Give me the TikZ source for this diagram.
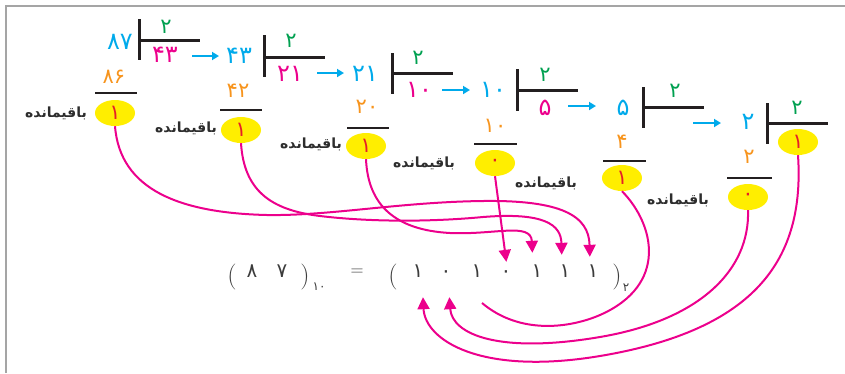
\documentclass[tikz,border=0pt]{standalone}
\usepackage{fontspec}
\usetikzlibrary{shapes.geometric,arrows.meta}
\newfontfamily\fa[Script=Arabic]{DejaVu Sans}
\TeXXeTstate=1
\definecolor{cyanC}{RGB}{0,170,235}
\definecolor{magC}{RGB}{236,0,140}
\definecolor{greenC}{RGB}{0,160,80}
\definecolor{orangeC}{RGB}{247,148,29}
\definecolor{yellowC}{RGB}{255,238,0}
\definecolor{redC}{RGB}{230,30,40}
\definecolor{barC}{RGB}{35,31,32}
\definecolor{txtC}{RGB}{45,45,45}
\definecolor{eqC}{RGB}{60,60,60}
\definecolor{frameC}{RGB}{165,165,165}
\tikzset{
  num/.style={inner sep=0pt, font=\fa\fontsize{24}{24}\selectfont},
  dvd/.style={num, text=cyanC},
  quo/.style={num, text=magC},
  dsr/.style={inner sep=0pt, font=\fa\fontsize{21}{21}\selectfont, text=greenC},
  prd/.style={inner sep=0pt, font=\fa\fontsize{21}{21}\selectfont, text=orangeC},
  rem/.style={ellipse, fill=yellowC, minimum width=40pt, minimum height=26pt, inner sep=0pt, text=redC, font=\fa\fontsize{21}{21}\selectfont},
  lbl/.style={inner sep=0pt, text=txtC, font=\fa\bfseries\fontsize{14}{14}\selectfont},
  bar/.style={draw=barC, line width=3pt},
  rule/.style={draw=barC, line width=2.5pt},
  step arrow/.style={draw=cyanC, line width=2pt, -{Triangle[length=7pt,width=8pt]}},
  link/.style={draw=magC, line width=2pt, -{Triangle[length=12pt,width=12pt]}},
  plain link/.style={draw=magC, line width=2pt},
  eqd/.style={inner sep=0pt, text=eqC, text height=10pt, text depth=0pt, font=\fa\fontsize{20}{20}\selectfont},
  par/.style={inner sep=0pt, text=eqC, font=\fontsize{26}{26}\selectfont},
  sub/.style={inner sep=0pt, text=eqC, font=\fa\fontsize{12}{12}\selectfont},
}
\begin{document}
\begin{tikzpicture}[x=1pt,y=-1pt]
\useasboundingbox (0,0) rectangle (845,373);
\draw[frameC, line width=1.2pt] (6,373) -- (6,6) -- (845,6);

% stage 1
\node[dvd] (d1) at (120,42) {۸۷};
\draw[bar] (139,19) -- (139,60) (139,40) -- (200,40);
\node[dsr] (g1) at (166,27) {۲};
\node[quo] (q1) at (165,55) {۴۳};
\node[prd] (p1) at (114,77) {۸۶};
\draw[rule] (95,93) -- (137,93);
\node[rem] (e1) at (115,113) {۱};
\node[lbl] (l1) at (56,113) {\beginR باقیمانده\endR};
\coordinate (a1s) at (192,56); \coordinate (a1e) at (219,56);
\draw[step arrow] (a1s) -- (a1e);

% stage 2
\node[dvd] (d2) at (239,56) {۴۳};
\draw[bar] (264,35) -- (264,77) (264,57) -- (325,57);
\node[dsr] (g2) at (291,41) {۲};
\node[quo] (q2) at (290,74) {۲۱};
\node[prd] (p2) at (238,91) {۴۲};
\draw[rule] (220,110) -- (262,110);
\node[rem] (e2) at (241,130) {۱};
\node[lbl] (l2) at (186,128) {\beginR باقیمانده\endR};
\coordinate (a2s) at (317,73); \coordinate (a2e) at (344,73);
\draw[step arrow] (a2s) -- (a2e);

% stage 3
\node[dvd] (d3) at (365,74) {۲۱};
\draw[bar] (392,53) -- (392,94) (392,73) -- (453,73);
\node[dsr] (g3) at (418,58) {۲};
\node[quo] (q3) at (419,90) {۱۰};
\node[prd] (p3) at (367,107) {۲۰};
\draw[rule] (347,128) -- (389,128);
\node[rem] (e3) at (366,146) {۱};
\node[lbl] (l3) at (311,144) {\beginR باقیمانده\endR};
\coordinate (a3s) at (442,90); \coordinate (a3e) at (470,90);
\draw[step arrow] (a3s) -- (a3e);

% stage 4
\node[dvd] (d4) at (493,90) {۱۰};
\draw[bar] (517,69) -- (517,111) (517,90) -- (578,90);
\node[dsr] (g4) at (545,75) {۲};
\node[quo] (q4) at (545,108) {۵};
\node[prd] (p4) at (495,126) {۱۰};
\draw[rule] (474,144) -- (517,144);
\node[rem] (e4) at (495,163) {۰};
\node[lbl] (l4) at (424,163) {\beginR باقیمانده\endR};
\coordinate (a4s) at (568,106); \coordinate (a4e) at (596,106);
\draw[step arrow] (a4s) -- (a4e);

% stage 5
\node[dvd] (d5) at (623,108) {۵};
\draw[bar] (643,87) -- (643,128) (643,107) -- (704,107);
\node[dsr] (g5) at (675,91) {۲};
\node[prd] (p5) at (622,142) {۴};
\draw[rule] (603,161) -- (646,161);
\node[rem] (e5) at (622,178) {۱};
\node[lbl] (l5) at (546,183) {\beginR باقیمانده\endR};
\coordinate (a5s) at (693,123); \coordinate (a5e) at (721,123);
\draw[step arrow] (a5s) -- (a5e);

% stage 6
\node[dvd] (d6) at (748,122) {۲};
\draw[bar] (767,103) -- (767,144) (767,123) -- (828,123);
\node[dsr] (g6) at (797,108) {۲};
\node[rem] (e7) at (798,142) {۱};
\node[prd] (p6) at (749,157) {۲};
\draw[rule] (727,178) -- (772,178);
\node[rem] (e6) at (748,197) {۰};
\node[lbl] (l6) at (678,200) {\beginR باقیمانده\endR};

% equation
\node[par] (pl1) at (232,277) {(};
\node[eqd] (n8) at (252,272) {۸};
\node[eqd] (n7) at (282,272) {۷};
\node[par] (pr1) at (305,277) {)};
\node[sub] (s10) at (319,287) {۱۰};
\node[inner sep=0pt, text=eqC, font=\fontsize{18}{18}\selectfont] (eq) at (357,272) {=};
\node[par] (pl2) at (393,277) {(};
\node[eqd] (b1) at (418,272) {۱};
\node[eqd] (b2) at (446,272) {۰};
\node[eqd] (b3) at (477,272) {۱};
\node[eqd] (b4) at (506,272) {۰};
\node[eqd] (b5) at (537,272) {۱};
\node[eqd] (b6) at (565,272) {۱};
\node[eqd] (b7) at (593,272) {۱};
\node[par] (pr2) at (617,277) {)};
\node[sub] (s2) at (626,288) {۲};

% connectors
\draw[link, shorten >=10pt] (e1.south) .. controls (120,190) and (180,213) .. (267,215)
  .. controls (330,216) and (400,202) .. (483,201)
  .. controls (560,200) and (589,215) .. ([xshift=-3pt]b7.north);
\draw[link, shorten >=12pt] (e2.south) .. controls (244,190) and (270,210) .. (320,216)
  .. controls (370,222) and (430,222) .. (483,217)
  .. controls (545,212) and (561,225) .. ([xshift=-3pt]b6.north);
\draw[link, shorten >=14pt] (e3.south) .. controls (368,205) and (395,230) .. (450,233)
  .. controls (495,235) and (531,222) .. ([xshift=-4pt]b5.north);
\draw[link, shorten >=5pt] (e4.south) -- ([xshift=1pt]b4.north);
\coordinate (d3end) at (482,303);
\draw[plain link] (e5.south) .. controls (655,225) and (668,285) .. (600,315)
  .. controls (570,328) and (520,335) .. (d3end);
\draw[link, shorten >=20pt] (e6.south) .. controls (750,270) and (700,320) .. (600,337)
  .. controls (500,354) and (452,335) .. ([xshift=2pt]b2.south);
\draw[link, shorten >=20pt] (e7.south) .. controls (805,260) and (755,330) .. (600,356)
  .. controls (480,376) and (425,340) .. ([xshift=4pt]b1.south);
\end{tikzpicture}
\end{document}
